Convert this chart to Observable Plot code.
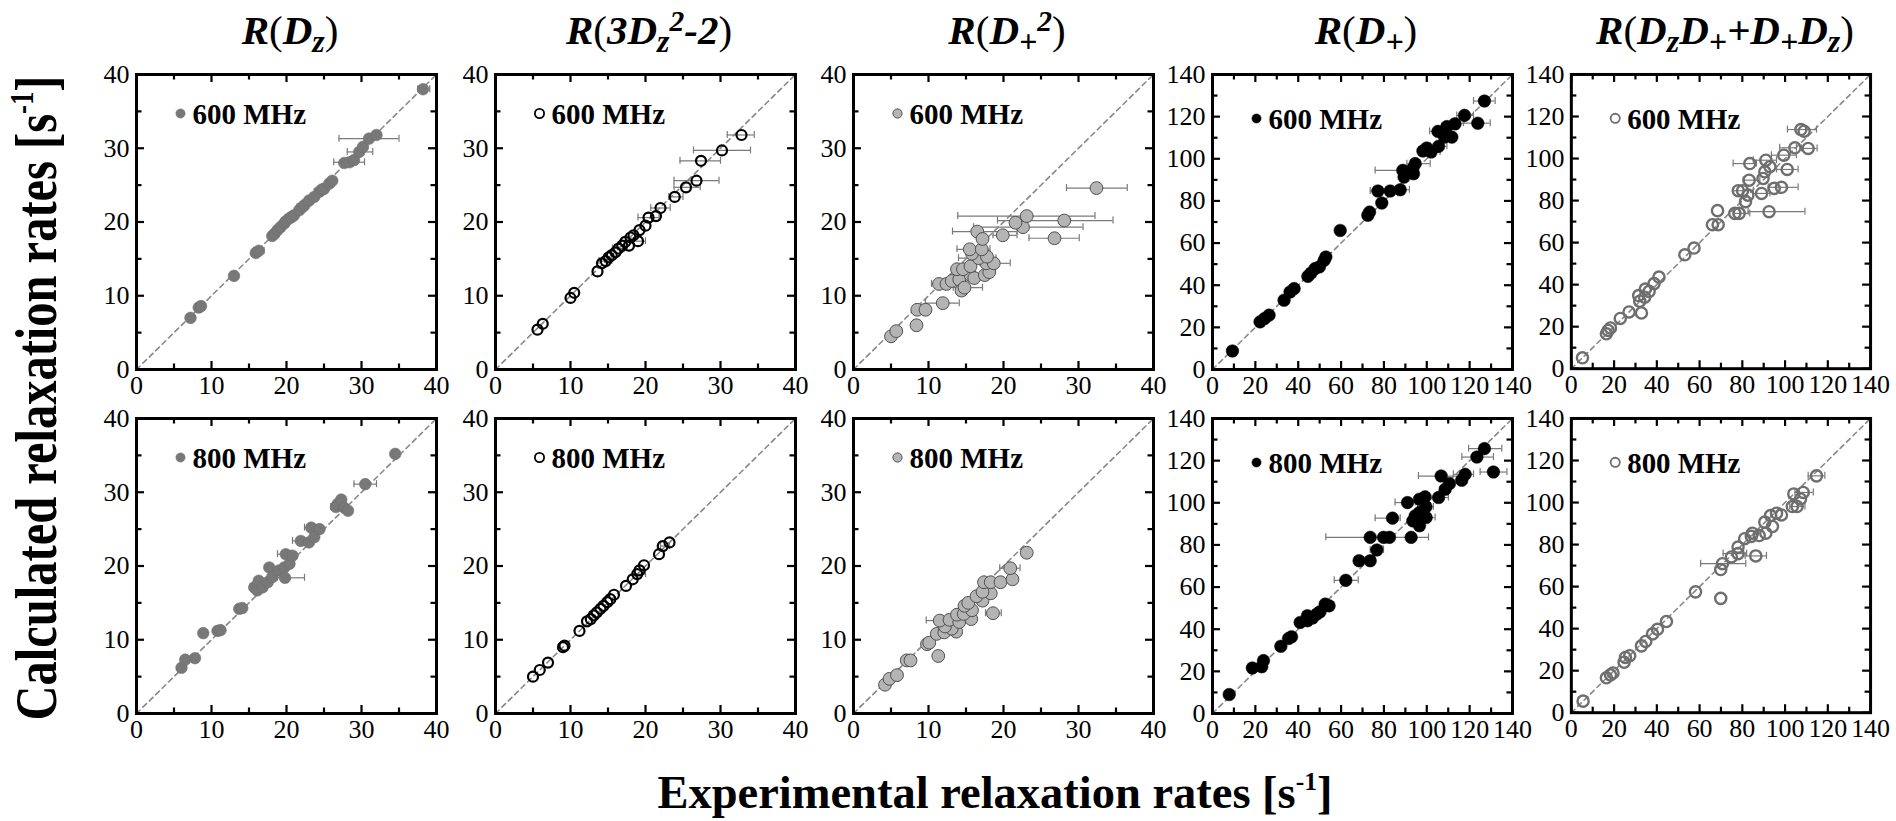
<!DOCTYPE html>
<html><head><meta charset="utf-8">
<script src="https://cdn.jsdelivr.net/npm/d3@7"></script>
<script src="https://cdn.jsdelivr.net/npm/@observablehq/plot@0.6"></script>
<style>
body{margin:0;background:#fff;}
#root{position:relative;width:1896px;height:821px;overflow:hidden;background:#fff;font-family:"Liberation Serif","Times New Roman",serif;color:#000;}
.panel{position:absolute;}
.title{position:absolute;transform:translateX(-50%);white-space:nowrap;font-weight:bold;font-style:italic;font-size:41px;line-height:1;}
.title .p{font-style:normal;font-weight:normal;}
.title .n{font-style:normal;}
.title sub{font-size:78%;vertical-align:baseline;position:relative;top:0.25em;}
.title sup{font-size:72%;vertical-align:baseline;position:relative;top:-0.45em;}
.axlab{position:absolute;white-space:nowrap;font-weight:bold;line-height:1;}
.axlab sup{font-size:55%;vertical-align:baseline;position:relative;top:-0.7em;}
</style></head>
<body><div id="root"></div>
<script>
// ---------- tick values ----------
const ticks40 = [0, 10, 20, 30, 40];
const minor40 = [5, 15, 25, 35];
const ticks140 = [0, 20, 40, 60, 80, 100, 120, 140];
const minor140 = [10, 30, 50, 70, 90, 110, 130];

// ---------- data: [experimental, calculated] ----------
const dz600 = [[7.2,7.0],[8.3,8.4],[8.6,8.6],[13.0,12.7],[15.9,15.8],[16.3,16.1],[18.1,18.1],[18.4,18.4],[18.8,18.9],[19.2,19.3],[19.7,19.8],[19.9,20.1],[20.4,20.5],[20.7,20.7],[21.0,20.9],[21.7,21.6],[22.1,22.0],[22.4,22.3],[23.0,22.9],[23.7,23.4],[24.4,24.1],[24.7,24.4],[25.0,24.5],[25.7,25.2],[26.1,25.6],[27.7,28.0],[28.4,28.1],[29.0,28.4],[29.7,29.5],[30.2,30.2],[31.0,31.3],[32.0,31.8],[38.2,38.0]];
const dz800 = [[6.0,6.2],[6.5,7.3],[7.8,7.5],[8.9,10.9],[10.8,11.2],[11.2,11.3],[13.7,14.2],[14.1,14.3],[15.7,17.1],[16.1,16.7],[16.3,18.0],[16.8,17.1],[17.5,17.8],[17.7,19.8],[18.1,18.5],[19.0,19.4],[19.7,19.8],[19.8,18.4],[19.9,21.6],[20.4,20.3],[20.8,21.4],[21.9,23.4],[23.0,23.2],[23.3,25.2],[23.7,23.9],[24.4,25.0],[26.6,28.0],[26.8,28.4],[27.3,29.0],[27.7,27.9],[28.2,27.5],[30.5,31.1],[34.5,35.2]];
const d3z600 = [[5.6,5.4],[6.3,6.2],[10.0,9.7],[10.5,10.4],[13.6,13.3],[14.2,14.4],[14.7,14.7],[15.1,15.2],[15.5,15.5],[16.0,15.9],[16.4,16.4],[16.9,16.8],[17.3,17.3],[17.8,16.8],[18.0,17.9],[18.4,18.2],[19.0,17.4],[19.2,18.9],[20.0,19.5],[20.4,20.6],[21.4,20.8],[22.0,21.9],[23.9,23.4],[25.4,24.7],[26.8,25.6],[27.4,28.3],[30.2,29.7],[32.8,31.8]];
const d3z800 = [[5.0,5.0],[5.9,5.9],[7.0,6.9],[9.0,9.0],[9.2,9.2],[11.2,11.2],[12.2,12.5],[12.7,12.8],[13.1,13.3],[13.5,13.7],[14.0,14.2],[14.4,14.6],[14.9,15.1],[15.3,15.5],[15.8,16.1],[17.4,17.3],[18.3,18.2],[18.9,18.9],[19.2,19.4],[19.8,20.1],[21.8,21.6],[22.3,22.7],[23.2,23.2]];
const dp2600 = [[5.0,4.5],[5.7,5.2],[8.4,6.0],[8.5,8.1],[9.6,8.1],[11.9,9.0],[11.4,11.6],[12.4,11.6],[13.1,12.0],[14.1,12.2],[14.4,10.7],[14.8,11.1],[15.6,12.8],[16.1,12.4],[17.5,12.8],[18.1,13.2],[13.8,13.6],[14.6,13.6],[15.6,14.0],[17.7,14.4],[18.7,14.4],[16.7,15.1],[17.8,15.3],[15.8,15.7],[15.5,16.3],[17.1,16.3],[16.5,18.7],[17.2,17.7],[19.9,18.2],[22.6,19.3],[21.6,19.9],[23.1,20.8],[28.1,20.2],[26.8,17.8],[32.4,24.6]];
const dp2800 = [[4.2,3.9],[4.8,4.7],[5.8,5.2],[7.1,7.2],[7.6,7.2],[9.8,9.4],[10.1,9.6],[11.3,7.8],[11.1,10.8],[12.1,11.0],[13.7,11.1],[13.1,11.5],[12.2,11.8],[11.5,12.6],[12.8,12.7],[14.1,12.4],[15.7,12.8],[13.8,13.4],[14.7,13.5],[18.6,13.6],[15.8,14.0],[14.8,14.6],[15.3,15.0],[17.2,15.3],[16.4,15.9],[18.3,16.3],[17.2,16.5],[17.4,17.8],[18.3,17.8],[19.6,17.8],[21.2,18.2],[20.9,19.7],[23.1,21.8]];
const dp600 = [[9.3,8.8],[22.2,22.6],[24.3,24.2],[26.4,25.8],[33.4,32.9],[36.2,36.8],[38.1,38.4],[44.5,44.2],[46.0,45.8],[47.9,47.9],[49.9,48.7],[52.1,51.8],[52.9,53.4],[59.6,66.0],[72.5,73.2],[73.3,74.7],[79.0,79.0],[77.2,84.7],[82.9,84.7],[87.6,85.3],[89.4,91.3],[93.8,92.9],[88.8,94.5],[93.5,95.3],[94.6,97.7],[98.2,103.7],[100.0,105.1],[102.0,103.2],[105.5,105.9],[108.3,110.3],[111.7,110.3],[105.2,113.0],[109.4,115.3],[113.2,116.6],[117.6,120.6],[123.8,116.9],[126.9,127.4]];
const dp800 = [[7.8,9.0],[18.6,21.6],[23.0,22.2],[23.8,25.1],[31.9,31.9],[35.5,35.6],[36.9,36.4],[40.9,43.2],[44.3,44.0],[44.3,46.4],[46.7,45.3],[48.7,47.2],[50.2,48.3],[52.6,51.9],[54.4,51.1],[62.2,63.2],[68.4,72.5],[73.6,72.5],[76.7,77.6],[73.6,83.6],[79.8,83.6],[82.6,83.6],[92.7,83.6],[96.6,89.1],[93.5,91.4],[84.0,92.7],[99.7,93.0],[94.6,93.8],[96.6,95.4],[99.6,98.1],[91.0,100.1],[96.6,101.7],[99.2,102.8],[105.5,102.5],[108.6,106.4],[110.6,109.1],[106.7,112.7],[116.3,110.7],[117.9,113.5],[131.1,114.6],[123.4,121.7],[126.9,125.7]];
const dd600 = [[5.2,5.2],[16.4,16.6],[17.2,18.2],[18.3,19.4],[22.9,23.9],[27.0,27.0],[32.8,26.5],[32.0,32.1],[31.5,34.8],[34.3,34.0],[34.6,37.9],[36.4,36.8],[38.7,40.5],[41.0,43.6],[53.1,54.2],[57.4,57.4],[66.0,68.5],[68.7,68.5],[68.4,75.2],[76.5,73.9],[78.5,73.9],[92.5,74.7],[81.5,79.5],[82.6,82.6],[78.1,84.7],[80.1,84.7],[89.0,83.4],[94.9,85.8],[98.3,86.3],[83.2,89.7],[89.7,90.5],[90.5,93.7],[92.9,96.1],[101.0,94.8],[83.5,97.6],[91.0,99.2],[99.4,101.6],[104.6,105.1],[110.8,104.8],[107.4,113.8],[108.9,113.0]];
const dd800 = [[5.5,5.5],[16.4,16.6],[18.3,18.0],[19.5,18.9],[24.7,24.0],[25.3,26.3],[27.3,27.1],[32.8,31.8],[34.8,33.9],[38.0,37.5],[40.3,39.7],[44.5,43.4],[58.1,57.5],[69.9,54.4],[69.9,68.1],[70.7,70.9],[74.9,74.1],[78.0,75.7],[86.3,74.6],[78.0,78.8],[81.1,82.8],[84.2,83.9],[84.7,85.4],[87.9,84.3],[91.0,85.4],[94.1,88.6],[90.5,90.7],[93.2,93.8],[96.0,94.9],[98.3,94.1],[103.4,98.1],[105.6,98.1],[107.2,101.7],[104.1,104.1],[108.5,104.8],[114.7,112.7]];

// ---------- horizontal error bars: [calculated, expLow, expHigh] ----------
const dz600Err = [[38.0,37.5,39.1],[31.3,27.0,35.0],[29.5,28.1,31.5],[28.1,26.3,30.4],[16.1,15.6,17.0],[22.0,21.4,22.8],[20.5,19.8,21.1],[24.1,23.7,25.0],[18.4,17.9,19.0]];
const dz800Err = [[31.1,29.0,32.0],[28.0,25.9,27.7],[25.2,22.4,24.1],[23.4,20.8,23.0],[21.6,18.8,20.6],[18.4,18.8,22.4],[17.8,16.9,18.1]];
const d3z600Err = [[31.8,30.9,34.5],[29.7,26.4,34.0],[28.3,24.6,30.0],[25.6,23.8,29.8],[24.7,23.8,27.3],[23.4,23.1,25.0],[21.9,20.7,23.3],[20.6,19.0,21.8],[17.4,18.2,20.0],[14.7,13.8,15.5],[16.4,15.6,17.2]];
const d3z800Err = [[18.9,18.6,20.0],[22.7,22.0,23.2]];
const dp2600Err = [[24.6,28.4,36.5],[20.8,13.9,32.2],[20.2,19.2,34.6],[19.3,16.0,30.6],[18.7,13.2,21.8],[18.2,18.6,21.8],[17.8,23.4,30.1],[16.3,13.8,18.2],[14.4,16.9,20.9],[11.6,10.4,12.4],[11.1,13.3,17.2],[9.0,9.6,14.1],[15.1,14.0,19.0]];
const dp2800Err = [[19.7,19.5,22.2],[13.6,17.6,19.7],[12.6,9.7,12.0],[17.8,17.0,18.5]];
const dp600Err = [[127.4,121.8,131.9],[120.6,114.0,121.8],[116.9,117.1,129.6],[115.3,107.0,114.8],[113.0,101.3,109.4],[105.9,101.6,109.4],[103.2,96.4,106.2],[97.7,90.7,101.6],[94.5,75.9,90.7],[85.3,84.5,91.9],[84.7,79.0,85.3],[84.7,73.6,81.4]];
const dp800Err = [[125.7,119.5,135.0],[121.7,116.4,131.1],[114.6,124.9,137.4],[113.5,112.4,121.8],[112.7,96.1,117.1],[102.5,103.9,110.1],[100.1,85.2,94.6],[98.1,95.7,103.1],[93.0,95.7,103.9],[92.7,75.9,87.6],[83.6,84.5,100.8],[83.6,52.9,84.5],[77.6,73.6,79.8],[63.2,56.8,68.0]];
const dd600Err = [[113.8,101.1,114.7],[105.1,97.5,105.3],[104.8,107.7,115.0],[101.6,93.6,105.3],[99.2,85.1,96.0],[97.6,75.7,86.6],[94.8,96.0,106.1],[89.7,80.4,88.2],[86.3,92.1,106.1],[83.4,85.1,92.9],[84.7,75.7,85.1],[74.7,82.7,109.3],[73.9,75.7,83.5]];
const dd800Err = [[112.7,110.8,118.6],[104.8,104.6,113.2],[98.1,102.2,109.3],[75.7,71.0,82.0],[74.6,81.3,91.3],[70.9,60.5,81.6]];

// ---------- labels ----------
const titles = [
  'R<span class="p">(</span>D<sub>z</sub><span class="p">)</span>',
  'R<span class="p">(</span>3D<sub>z</sub><sup>2</sup>-2<span class="p">)</span>',
  'R<span class="p">(</span>D<sub>+</sub><sup>2</sup><span class="p">)</span>',
  'R<span class="p">(</span>D<sub>+</sub><span class="p">)</span>',
  'R<span class="p">(</span>D<sub>z</sub>D<sub>+</sub>+D<sub>+</sub>D<sub>z</sub><span class="p">)</span>'
];
const fieldLabels = ["600 MHz", "800 MHz"];
const yLabel = 'Calculated relaxation rates [s<sup>-1</sup>]';
const xLabel = 'Experimental relaxation rates [s<sup>-1</sup>]';

// ---------- styles ----------
const styles = {
  A: {fill: "#787878", stroke: "#6e6e6e", strokeWidth: 0.6, r: 5.8},
  B: {fill: "none", stroke: "#000", strokeWidth: 2.2, r: 5},
  C: {fill: "#b4b4b4", stroke: "#505050", strokeWidth: 1, r: 6.4},
  D: {fill: "#000", stroke: "#000", strokeWidth: 0.5, r: 6.3},
  E: {fill: "none", stroke: "#6e6e6e", strokeWidth: 2.4, r: 5.6}
};
const columns = [
  {kind: "A", max: 40, major: ticks40, minor: minor40, rows: [[dz600, dz600Err], [dz800, dz800Err]], left: 136, ldy: 39},
  {kind: "B", max: 40, major: ticks40, minor: minor40, rows: [[d3z600, d3z600Err], [d3z800, d3z800Err]], left: 495, ldy: 39},
  {kind: "C", max: 40, major: ticks40, minor: minor40, rows: [[dp2600, dp2600Err], [dp2800, dp2800Err]], left: 853, ldy: 39},
  {kind: "D", max: 140, major: ticks140, minor: minor140, rows: [[dp600, dp600Err], [dp800, dp800Err]], left: 1212, ldy: 44},
  {kind: "E", max: 140, major: ticks140, minor: minor140, rows: [[dd600, dd600Err], [dd800, dd800Err]], left: 1571, ldy: 44}
];
const rowTops = [74, 418];

const W = 300, H = 295, ML = 60, MR = 26, MT = 12, MB = 36;
const root = document.getElementById("root");

function makePanel(col, pts, err, label) {
  const {max, major, minor, kind} = col;
  const ux = max / W, uy = max / H;
  const st = styles[kind];
  const capH = 3.5 * uy;
  const tickMarks = (vals, len, sw) => [
    Plot.ruleX(vals, {x: d => d, y1: 0, y2: len * uy, stroke: "#000", strokeWidth: sw}),
    Plot.ruleX(vals, {x: d => d, y1: max, y2: max - len * uy, stroke: "#000", strokeWidth: sw}),
    Plot.ruleY(vals, {y: d => d, x1: 0, x2: len * ux, stroke: "#000", strokeWidth: sw}),
    Plot.ruleY(vals, {y: d => d, x1: max, x2: max - len * ux, stroke: "#000", strokeWidth: sw})
  ];
  return Plot.plot({
    width: ML + W + MR, height: MT + H + MB,
    marginLeft: ML, marginRight: MR, marginTop: MT, marginBottom: MB,
    style: {background: "transparent", overflow: "visible", fontFamily: '"Liberation Serif", "Times New Roman", serif', fontSize: "26px", color: "#000"},
    x: {domain: [0, max], ticks: major, tickSize: 0, tickPadding: 6, tickFormat: d => String(d), label: null},
    y: {domain: [0, max], ticks: major, tickSize: 0, tickPadding: 7, tickFormat: d => String(d), label: null},
    marks: [
      Plot.line([0, max], {x: d => d, y: d => d, stroke: "#888", strokeWidth: 1.6, strokeDasharray: "5,4"}),
      Plot.ruleY(err, {y: d => d[0], x1: d => d[1], x2: d => d[2], stroke: "#7a7a7a", strokeWidth: 1.2}),
      Plot.ruleX(err, {x: d => d[1], y1: d => d[0] - capH, y2: d => d[0] + capH, stroke: "#7a7a7a", strokeWidth: 1.2}),
      Plot.ruleX(err, {x: d => d[2], y1: d => d[0] - capH, y2: d => d[0] + capH, stroke: "#7a7a7a", strokeWidth: 1.2}),
      Plot.dot(pts, {x: d => d[0], y: d => d[1], ...st}),
      ...tickMarks(major, 8, 2.2),
      ...tickMarks(minor, 5.5, 2.2),
      Plot.frame({stroke: "#000", strokeWidth: 3}),
      Plot.dot([label], {x: null, y: null, frameAnchor: "top-left", dx: 44, dy: col.ldy, ...st, r: 4.6, strokeWidth: Math.min(st.strokeWidth, 1.8)}),
      Plot.text([label], {x: null, y: null, text: d => d, frameAnchor: "top-left", lineAnchor: "middle", dx: 56, dy: col.ldy + 1, textAnchor: "start", fontSize: 29, fontWeight: "bold", fill: "#000"})
    ]
  });
}

columns.forEach((col, ci) => {
  col.rows.forEach(([pts, err], ri) => {
    const svg = makePanel(col, pts, err, fieldLabels[ri]);
    const wrap = document.createElement("div");
    wrap.className = "panel";
    wrap.style.left = (col.left - ML) + "px";
    wrap.style.top = (rowTops[ri] - MT) + "px";
    wrap.appendChild(svg);
    root.appendChild(wrap);
  });
  const t = document.createElement("div");
  t.className = "title";
  t.innerHTML = titles[ci];
  t.style.left = (col.left + W / 2 + 4) + "px";
  t.style.top = "10px";
  root.appendChild(t);
});

// axis labels
const yl = document.createElement("div");
yl.className = "axlab";
yl.style.fontSize = "60px";
yl.innerHTML = yLabel;
root.appendChild(yl);
const yw = yl.offsetWidth, yh = yl.offsetHeight;
yl.style.left = (36 - yw / 2) + "px";
yl.style.top = (398 - yh / 2) + "px";
yl.style.transform = `rotate(-90deg) scaleX(${645 / yw})`;

const xl = document.createElement("div");
xl.className = "axlab";
xl.style.fontSize = "46px";
xl.innerHTML = xLabel;
root.appendChild(xl);
const xw = xl.offsetWidth;
xl.style.left = (995 - xw / 2) + "px";
xl.style.top = "770px";
xl.style.transform = `scaleX(${675 / xw})`;
</script>
</body></html>
